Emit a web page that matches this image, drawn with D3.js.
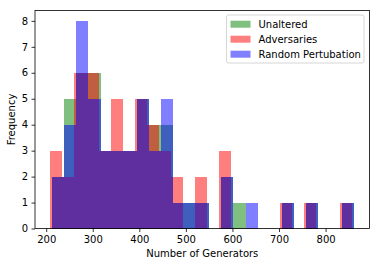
<html>
<script src="https://cdn.jsdelivr.net/npm/d3@7"></script>
<body style="margin:0">
<svg width=380 height=266></svg>
</body>
<script>

var series = ["Unaltered", "Adversaries", "Random Pertubation"];
var colors = ["green", "red", "blue"];
var nbins = 25;
// data range of each series (min, max), bins are split evenly like matplotlib
var rangeUnaltered = [212.9, 861.7];
var rangeAdversaries = [208.6, 857.4];
var rangeRandom = [212.9, 861.7];
var countsUnaltered = [2,5,6,6,3,3,3,5,4,4,1,1,1,0,2,1,0,0,0,1,0,1,0,0,1];
var countsAdversaries = [3,2,6,6,3,5,3,5,4,3,2,0,2,0,3,0,0,0,0,1,0,1,0,0,1];
var countsRandom = [2,4,8,5,3,3,3,5,3,5,1,1,1,0,2,0,1,0,0,1,0,1,0,0,1];
var xTicks = [200,300,400,500,600,700,800];
var yTicks = [0,1,2,3,4,5,6,7,8];

var ranges = [rangeUnaltered, rangeAdversaries, rangeRandom];
var counts = [countsUnaltered, countsAdversaries, countsRandom];

var pLeft = 35, pRight = 369.5, pTop = 10.5, pBottom = 228.5;
var svg = d3.select("svg");
var font = "DejaVu Sans, sans-serif";

var lo = d3.min(ranges, function(r){ return r[0]; });
var hi = d3.max(ranges, function(r){ return r[1]; });
var pad = (hi - lo) * 0.05;
var x = d3.scaleLinear().domain([lo - pad, hi + pad]).range([pLeft, pRight]);
var ymax = d3.max(counts, function(c){ return d3.max(c); });
var y = d3.scaleLinear().domain([0, ymax * 1.05]).range([pBottom, pTop]);

// snap bin edges to whole pixels so neighbouring bars don't leave seams
function edge(r, i) {
  return Math.round(x(r[0] + i * (r[1] - r[0]) / nbins));
}

counts.forEach(function(c, s) {
  var r = ranges[s];
  svg.append("g").selectAll("rect").data(c).enter().append("rect")
    .attr("x", function(d, i){ return edge(r, i); })
    .attr("width", function(d, i){ return edge(r, i+1) - edge(r, i); })
    .attr("y", function(d){ return Math.round(y(d)); })
    .attr("height", function(d){ return Math.round(y(0)) - Math.round(y(d)); })
    .attr("fill", colors[s]).attr("fill-opacity", 0.5);
});

var xAxis = svg.append("g").attr("transform", "translate(0," + pBottom + ")")
  .call(d3.axisBottom(x).tickValues(xTicks).tickSize(3.5).tickPadding(3.5));
var yAxis = svg.append("g").attr("transform", "translate(" + pLeft + ",0)")
  .call(d3.axisLeft(y).tickValues(yTicks).tickSize(3.5).tickPadding(3.5));
[xAxis, yAxis].forEach(function(a) {
  a.select(".domain").remove();
  a.selectAll("text").attr("font-family", font).attr("font-size", 10).attr("fill", "#000");
  a.selectAll("line").attr("stroke", "#000").attr("stroke-width", 0.8);
});

svg.append("rect").attr("x", pLeft).attr("y", pTop)
  .attr("width", pRight - pLeft).attr("height", pBottom - pTop)
  .attr("fill", "none").attr("stroke", "#000").attr("stroke-width", 0.8);

svg.append("text").attr("x", (pLeft + pRight)/2).attr("y", 257)
  .attr("text-anchor", "middle").attr("font-family", font).attr("font-size", 10)
  .text("Number of Generators");
svg.append("text").attr("transform", "translate(15," + ((pTop + pBottom)/2) + ") rotate(-90)")
  .attr("text-anchor", "middle").attr("font-family", font).attr("font-size", 10)
  .text("Frequency");

// legend
var lg = svg.append("g");
lg.append("rect").attr("x", 226.5).attr("y", 15).attr("width", 137.5).attr("height", 48)
  .attr("rx", 2).attr("fill", "#fff").attr("fill-opacity", 0.8)
  .attr("stroke", "#ccc").attr("stroke-width", 0.8);
series.forEach(function(name, i) {
  var cy = 23.7 + i*15;
  lg.append("rect").attr("x", 230.5).attr("y", cy - 3).attr("width", 20).attr("height", 7)
    .attr("fill", colors[i]).attr("fill-opacity", 0.5);
  lg.append("text").attr("x", 258.5).attr("y", cy + 3.8)
    .attr("font-family", font).attr("font-size", 10).text(name);
});

</script>
</html>
